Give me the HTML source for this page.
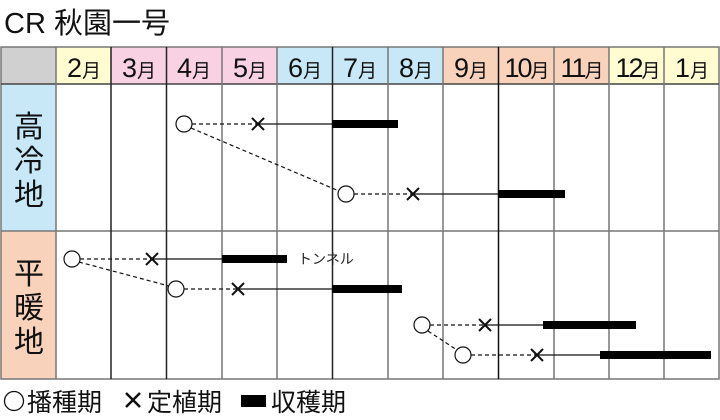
<!DOCTYPE html>
<html><head><meta charset="utf-8"><style>
body{margin:0;background:#fff;width:720px;height:415px;overflow:hidden}
svg text{font-family:"Liberation Sans","Noto Sans CJK JP",sans-serif}
</style></head><body>
<svg width="720" height="415" viewBox="0 0 720 415" xmlns="http://www.w3.org/2000/svg">
<text x="4" y="33" font-size="29" fill="#111">CR 秋園一号</text>
<rect x="1" y="47" width="55" height="37" fill="#d0d0d0"/>
<rect x="56" y="47" width="55" height="37" fill="#fffcd2"/>
<rect x="111" y="47" width="111" height="37" fill="#f8d2e2"/>
<rect x="222" y="47" width="55" height="37" fill="#f8d2e2"/>
<rect x="277" y="47" width="111" height="37" fill="#c8e8f8"/>
<rect x="388" y="47" width="55" height="37" fill="#c8e8f8"/>
<rect x="443" y="47" width="166" height="37" fill="#f9d2bc"/>
<rect x="609" y="47" width="110" height="37" fill="#fffcd2"/>
<rect x="1" y="84" width="55" height="147" fill="#c8e8f8"/>
<rect x="1" y="231" width="55" height="148" fill="#f9d2bc"/>
<g stroke="#777" stroke-width="1.5" fill="none">
<rect x="1" y="47" width="718" height="332"/>
<line x1="1" y1="84" x2="719" y2="84" stroke="#444"/>
<line x1="1" y1="231" x2="719" y2="231"/>
<line x1="56" y1="47" x2="56" y2="379"/>
<line x1="111" y1="47" x2="111" y2="379" stroke="#222"/>
<line x1="166.5" y1="47" x2="166.5" y2="379" stroke="#222"/>
<line x1="222" y1="47" x2="222" y2="379"/>
<line x1="277" y1="47" x2="277" y2="379"/>
<line x1="332.5" y1="47" x2="332.5" y2="379" stroke="#222"/>
<line x1="388" y1="47" x2="388" y2="379"/>
<line x1="443" y1="47" x2="443" y2="379"/>
<line x1="498.5" y1="47" x2="498.5" y2="379" stroke="#111"/>
<line x1="554" y1="47" x2="554" y2="379"/>
<line x1="609" y1="47" x2="609" y2="379"/>
<line x1="664" y1="47" x2="664" y2="379"/>
</g>
<g font-size="27" fill="#111" text-anchor="middle">
<text x="84" y="77">2<tspan font-size="19">月</tspan></text>
<text x="139" y="77">3<tspan font-size="19">月</tspan></text>
<text x="194" y="77">4<tspan font-size="19">月</tspan></text>
<text x="250" y="77">5<tspan font-size="19">月</tspan></text>
<text x="305" y="77">6<tspan font-size="19">月</tspan></text>
<text x="360" y="77">7<tspan font-size="19">月</tspan></text>
<text x="416" y="77">8<tspan font-size="19">月</tspan></text>
<text x="471" y="77">9<tspan font-size="19">月</tspan></text>
<text x="526" y="77" letter-spacing="-2">10<tspan font-size="19">月</tspan></text>
<text x="581" y="77" letter-spacing="-2">11<tspan font-size="19">月</tspan></text>
<text x="637" y="77" letter-spacing="-2">12<tspan font-size="19">月</tspan></text>
<text x="692" y="77">1<tspan font-size="19">月</tspan></text>
</g>
<g font-size="30" fill="#111" text-anchor="middle">
<text x="29" y="137">高</text><text x="29" y="171">冷</text><text x="29" y="205">地</text>
<text x="29" y="284">平</text><text x="29" y="318">暖</text><text x="29" y="352">地</text>
</g>
<g stroke="#111" stroke-width="1.2" fill="none">
<g stroke-dasharray="4,3">
<line x1="192" y1="124" x2="258" y2="124"/>
<line x1="191" y1="128" x2="339" y2="191"/>
<line x1="354" y1="194" x2="413" y2="194"/>
<line x1="80" y1="259" x2="152" y2="259"/>
<line x1="79" y1="262" x2="169" y2="286"/>
<line x1="184" y1="289" x2="238" y2="289"/>
<line x1="430" y1="325" x2="485" y2="325"/>
<line x1="428" y1="331" x2="457" y2="350"/>
<line x1="471" y1="355" x2="537" y2="355"/>
</g>
<line x1="258" y1="124" x2="332" y2="124"/>
<line x1="413" y1="194" x2="498" y2="194"/>
<line x1="152" y1="259" x2="222" y2="259"/>
<line x1="238" y1="289" x2="332" y2="289"/>
<line x1="485" y1="325" x2="543" y2="325"/>
<line x1="537" y1="355" x2="600" y2="355"/>
<circle cx="184" cy="124" r="8" fill="#fff"/>
<circle cx="346" cy="194" r="8" fill="#fff"/>
<circle cx="72" cy="259" r="8" fill="#fff"/>
<circle cx="176" cy="289" r="8" fill="#fff"/>
<circle cx="422" cy="325" r="8" fill="#fff"/>
<circle cx="463" cy="355" r="8" fill="#fff"/>
</g>
<g stroke="#111" stroke-width="2">
<path d="M252 118l12 12M264 118l-12 12"/>
<path d="M407 188l12 12M419 188l-12 12"/>
<path d="M146 253l12 12M158 253l-12 12"/>
<path d="M232 283l12 12M244 283l-12 12"/>
<path d="M479 319l12 12M491 319l-12 12"/>
<path d="M531 349l12 12M543 349l-12 12"/>
</g>
<g fill="#000">
<rect x="332" y="120" width="66" height="8"/>
<rect x="498" y="190" width="67" height="8"/>
<rect x="222" y="255" width="65" height="8"/>
<rect x="332" y="285" width="70" height="8"/>
<rect x="543" y="321" width="93" height="8"/>
<rect x="600" y="351" width="111" height="8"/>
</g>
<text x="298" y="264" font-size="14" fill="#222">トンネル</text>
<g font-size="25" fill="#111">
<circle cx="14" cy="401" r="9.5" fill="none" stroke="#111" stroke-width="1.3"/>
<text x="27" y="411">播種期</text>
<path d="M126 393l14 14M140 393l-14 14" stroke="#111" stroke-width="2.5"/>
<text x="147" y="411">定植期</text>
<rect x="241" y="395" width="25" height="12" fill="#000"/>
<text x="271" y="411">収穫期</text>
</g>
</svg>
</body></html>
